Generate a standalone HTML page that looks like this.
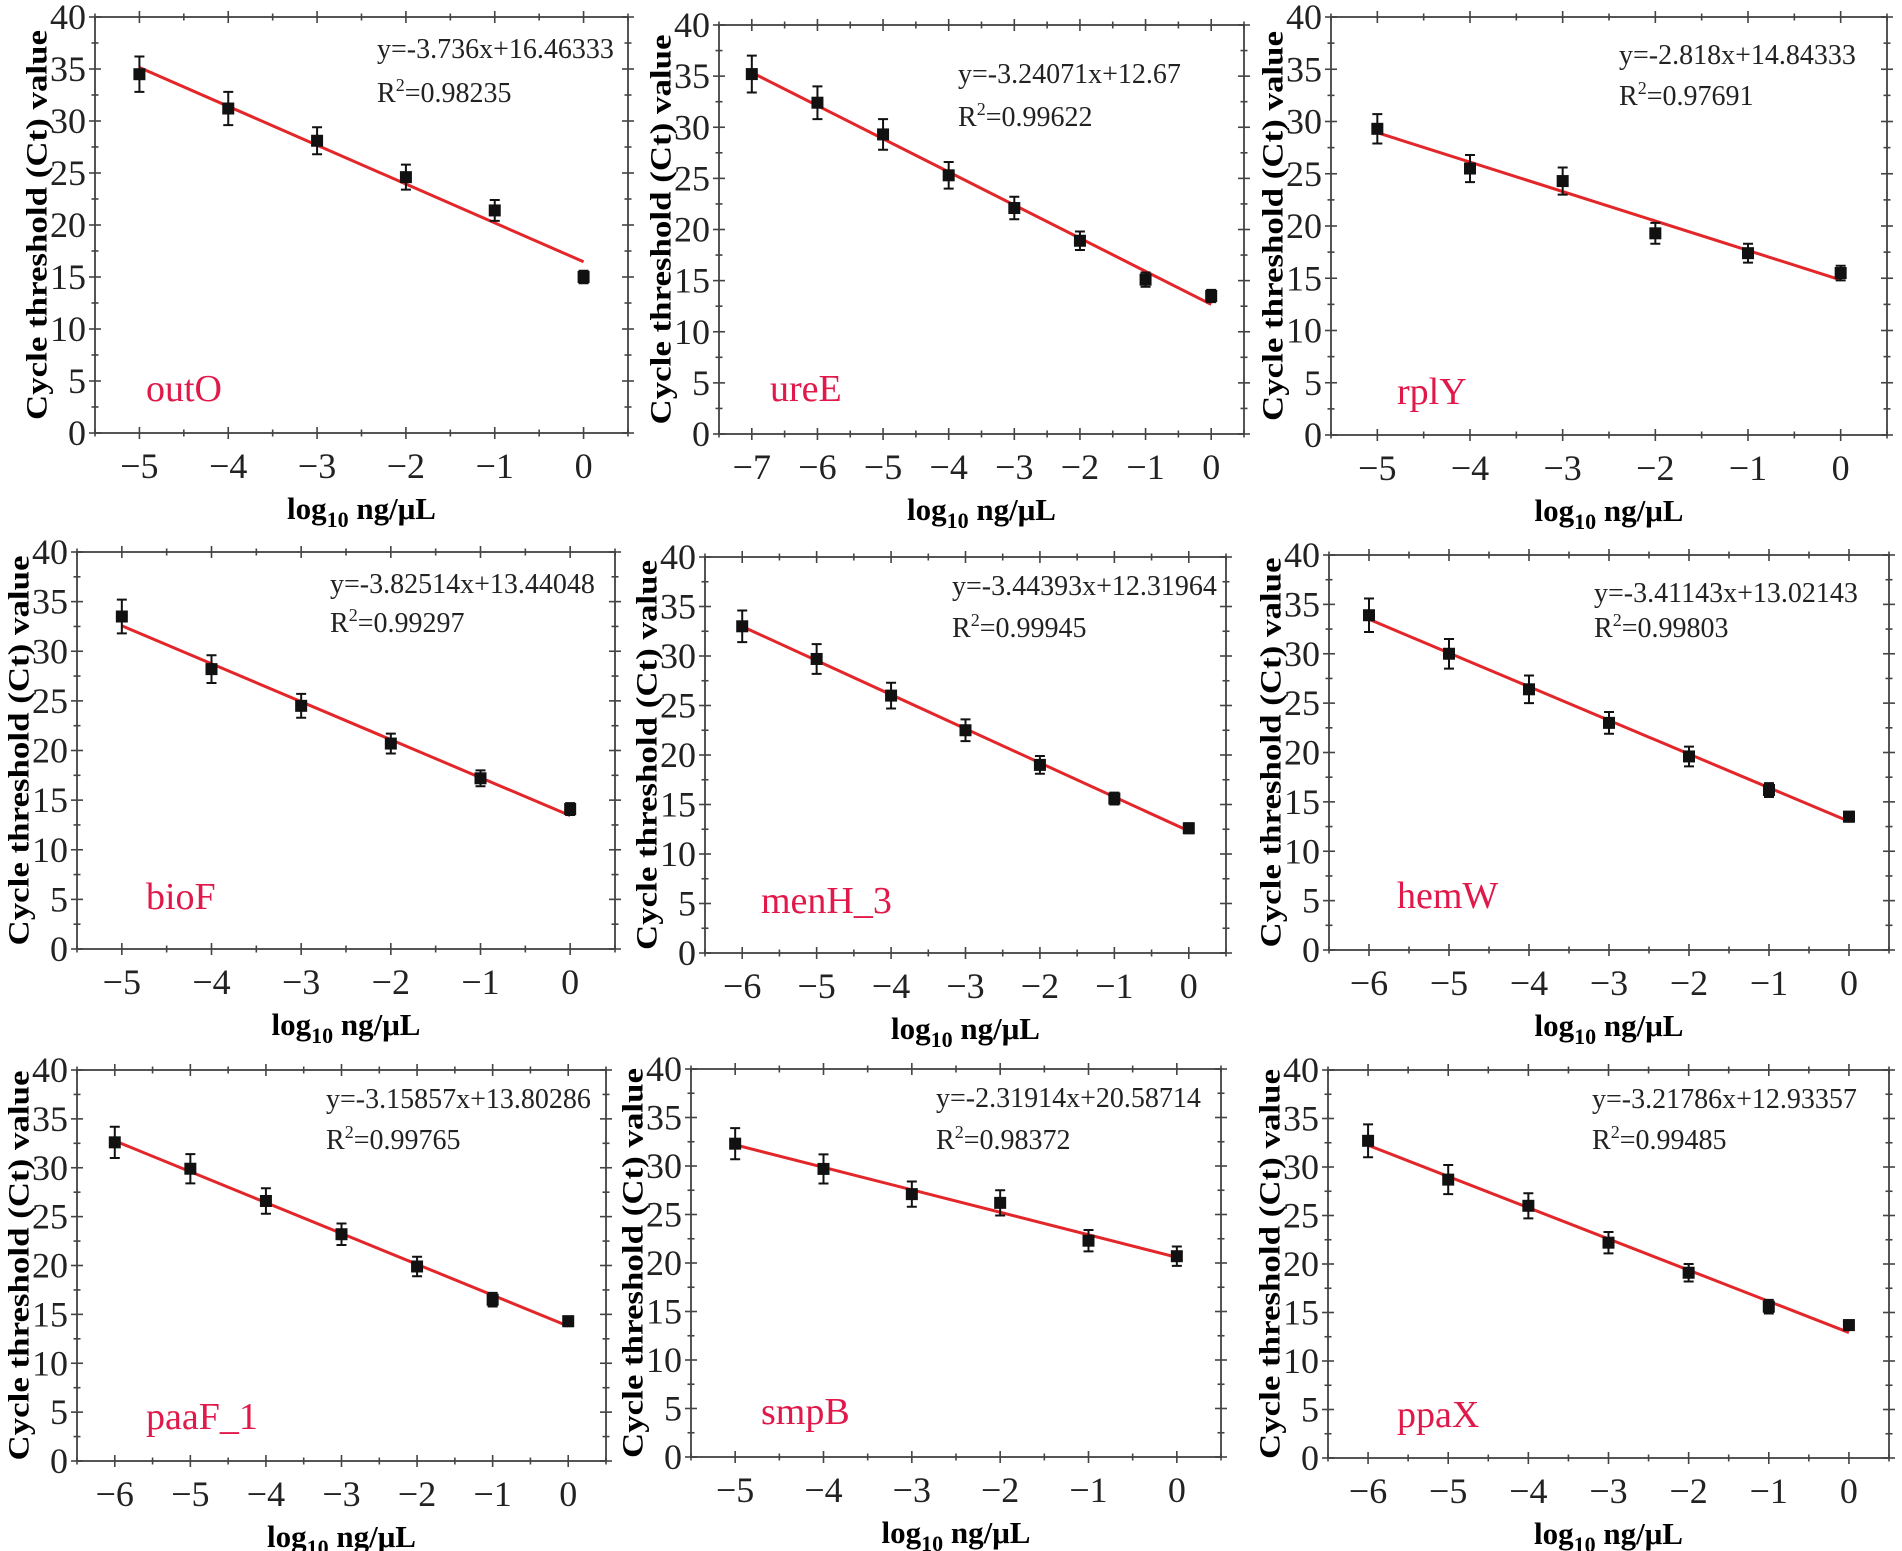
<!DOCTYPE html>
<html><head><meta charset="utf-8">
<style>
html,body{margin:0;padding:0;background:#fff;}
svg{display:block;}
text{font-family:"Liberation Serif","DejaVu Serif",serif;}
</style></head>
<body>
<svg id="fig" width="1902" height="1551" viewBox="0 0 1902 1551" xmlns="http://www.w3.org/2000/svg"></svg>
<script>
// ---- data ----
const xOutO = [-5,-4,-3,-2,-1,0];
const ctOutO = [34.5,31.2,28.1,24.6,21.4,15.0];
const errOutO = [1.7,1.6,1.3,1.2,1.0,0.6];
const fitOutO = [-3.736,16.46333];
const r2OutO = "0.98235";

const xUreE = [-7,-6,-5,-4,-3,-2,-1,0];
const ctUreE = [35.2,32.4,29.3,25.3,22.1,18.9,15.1,13.5];
const errUreE = [1.8,1.6,1.5,1.3,1.1,0.9,0.7,0.6];
const fitUreE = [-3.24071,12.67];
const r2UreE = "0.99622";

const xRplY = [-5,-4,-3,-2,-1,0];
const ctRplY = [29.3,25.5,24.3,19.3,17.4,15.5];
const errRplY = [1.4,1.3,1.3,1.0,0.9,0.7];
const fitRplY = [-2.818,14.84333];
const r2RplY = "0.97691";

const xBioF = [-5,-4,-3,-2,-1,0];
const ctBioF = [33.5,28.2,24.5,20.7,17.2,14.1];
const errBioF = [1.7,1.4,1.2,1.0,0.8,0.6];
const fitBioF = [-3.82514,13.44048];
const r2BioF = "0.99297";

const xMenH = [-6,-5,-4,-3,-2,-1,0];
const ctMenH = [33.0,29.7,26.0,22.5,19.0,15.6,12.6];
const errMenH = [1.6,1.5,1.3,1.1,0.9,0.6,0.5];
const fitMenH = [-3.44393,12.31964];
const r2MenH = "0.99945";

const xHemW = [-6,-5,-4,-3,-2,-1,0];
const ctHemW = [33.9,30.0,26.4,23.0,19.6,16.2,13.5];
const errHemW = [1.7,1.5,1.4,1.1,1.0,0.7,0.5];
const fitHemW = [-3.41143,13.02143];
const r2HemW = "0.99803";

const xPaaF = [-6,-5,-4,-3,-2,-1,0];
const ctPaaF = [32.6,29.9,26.6,23.2,19.9,16.5,14.3];
const errPaaF = [1.6,1.5,1.3,1.1,1.0,0.7,0.5];
const fitPaaF = [-3.15857,13.80286];
const r2PaaF = "0.99765";

const xSmpB = [-5,-4,-3,-2,-1,0];
const ctSmpB = [32.3,29.7,27.1,26.2,22.3,20.7];
const errSmpB = [1.6,1.5,1.3,1.3,1.1,1.0];
const fitSmpB = [-2.31914,20.58714];
const r2SmpB = "0.98372";

const xPpaX = [-6,-5,-4,-3,-2,-1,0];
const ctPpaX = [32.7,28.7,26.0,22.2,19.1,15.6,13.7];
const errPpaX = [1.7,1.5,1.3,1.1,0.9,0.7,0.5];
const fitPpaX = [-3.21786,12.93357];
const r2PpaX = "0.99485";

const geneNames = ["outO","ureE","rplY","bioF","menH_3","hemW","paaF_1","smpB","ppaX"];
const yTicks = [0,5,10,15,20,25,30,35,40];

// ---- layout ----
const panels = [
 {gene:0,x:xOutO,y:ctOutO,e:errOutO,f:fitOutO,r2:r2OutO,L:95,R:628,T:17,B:433,eqX:377,eqY:31,r2Y:75,gx:146,gy:388},
 {gene:1,x:xUreE,y:ctUreE,e:errUreE,f:fitUreE,r2:r2UreE,L:719,R:1244,T:25,B:434,eqX:958,eqY:48,r2Y:91,gx:770,gy:388},
 {gene:2,x:xRplY,y:ctRplY,e:errRplY,f:fitRplY,r2:r2RplY,L:1331,R:1887,T:17,B:435,eqX:1619,eqY:37,r2Y:78,gx:1397,gy:391},
 {gene:3,x:xBioF,y:ctBioF,e:errBioF,f:fitBioF,r2:r2BioF,L:77,R:615,T:552,B:949,eqX:330,eqY:31,r2Y:70,gx:146,gy:896},
 {gene:4,x:xMenH,y:ctMenH,e:errMenH,f:fitMenH,r2:r2MenH,L:705,R:1226,T:557,B:953,eqX:952,eqY:28,r2Y:70,gx:761,gy:900},
 {gene:5,x:xHemW,y:ctHemW,e:errHemW,f:fitHemW,r2:r2HemW,L:1329,R:1889,T:555,B:950,eqX:1594,eqY:37,r2Y:72,gx:1397,gy:895},
 {gene:6,x:xPaaF,y:ctPaaF,e:errPaaF,f:fitPaaF,r2:r2PaaF,L:77,R:606,T:1070,B:1461,eqX:326,eqY:28,r2Y:69,gx:146,gy:1416},
 {gene:7,x:xSmpB,y:ctSmpB,e:errSmpB,f:fitSmpB,r2:r2SmpB,L:691,R:1221,T:1069,B:1457,eqX:936,eqY:28,r2Y:70,gx:761,gy:1411},
 {gene:8,x:xPpaX,y:ctPpaX,e:errPpaX,f:fitPpaX,r2:r2PpaX,L:1328,R:1889,T:1070,B:1458,eqX:1592,eqY:28,r2Y:69,gx:1397,gy:1414}
];

const NS = "http://www.w3.org/2000/svg";
const svg = document.getElementById("fig");
function mk(tag, attrs, parent){
  const el = document.createElementNS(NS, tag);
  for (const k in attrs) el.setAttribute(k, attrs[k]);
  (parent||svg).appendChild(el);
  return el;
}
function fmt(v){ return v<0 ? "\u2212"+Math.abs(v) : String(v); }

panels.forEach((p, idx) => {
  const g = mk("g", {});
  
  
  const xmin = Math.min(...p.x) - 0.5, xmax = 0.5;
  const sx = v => p.L + (v - xmin) / (xmax - xmin) * (p.R - p.L);
  const sy = v => p.B - v / 40 * (p.B - p.T);

  const fr = mk("rect", {x:p.L, y:p.T, width:p.R-p.L, height:p.B-p.T, fill:"none", stroke:"#555", "stroke-width":2}, g);
  
  

  for (let v = 0; v <= 40; v += 2.5) {
    const major = (v % 5 === 0);
    const len = major ? 6 : 3.5;
    const yy = sy(v);
    mk("line", {x1:p.L-len, x2:p.L+len, y1:yy, y2:yy, stroke:"#444", "stroke-width":1.6}, g);
    mk("line", {x1:p.R-len, x2:p.R+len, y1:yy, y2:yy, stroke:"#444", "stroke-width":1.6}, g);
  }
  yTicks.forEach(v => {
    const t = mk("text", {x:p.L-9, y:sy(v)+12, "text-anchor":"end", "font-size":36, fill:"#222"}, g);
    t.textContent = String(v);
    
    
  });
  for (let v = xmin; v <= xmax + 1e-9; v += 0.5) {
    const major = Math.abs(v - Math.round(v)) < 1e-9;
    const len = major ? 6 : 3.5;
    const xx = sx(v);
    mk("line", {x1:xx, x2:xx, y1:p.B-len, y2:p.B+len, stroke:"#444", "stroke-width":1.6}, g);
    mk("line", {x1:xx, x2:xx, y1:p.T-len, y2:p.T+len, stroke:"#444", "stroke-width":1.6}, g);
  }
  p.x.forEach(v => {
    const t = mk("text", {x:sx(v), y:p.B+45, "text-anchor":"middle", "font-size":36, fill:"#222"}, g);
    t.textContent = fmt(v);
    
    
  });

  const cy = (p.T + p.B) / 2, tx = p.L - 58;
  const yt = mk("text", {x:tx, y:cy, transform:`rotate(-90 ${tx} ${cy})`, "text-anchor":"middle", "dominant-baseline":"central", "font-size":30, "font-weight":"bold", fill:"#000", textLength:390, lengthAdjust:"spacingAndGlyphs"}, g);
  yt.textContent = "Cycle threshold (Ct) value";
  
  

  const cx = (p.L + p.R) / 2;
  const xt = mk("text", {x:cx, y:p.B+86, "text-anchor":"middle", "font-size":31, "font-weight":"bold", fill:"#000"}, g);
  
  
  const s1 = mk("tspan", {}, xt); s1.textContent = "log";
  const s2 = mk("tspan", {dy:8, "font-size":22}, xt); s2.textContent = "10";
  const s3 = mk("tspan", {dy:-8}, xt); s3.textContent = " ng/\u03BCL";

  const x0 = Math.min(...p.x), x1 = Math.max(...p.x);
  const fl = mk("line", {x1:sx(x0), y1:sy(p.f[0]*x0+p.f[1]), x2:sx(x1), y2:sy(p.f[0]*x1+p.f[1]), stroke:"#e3262a", "stroke-width":3}, g);
  
  

  p.x.forEach((xv, i) => {
    const X = sx(xv), Y = sy(p.y[i]), Yt = sy(p.y[i]+p.e[i]), Yb = sy(p.y[i]-p.e[i]);
    const eb = mk("path", {d:`M${X},${Yt}V${Yb}M${X-5},${Yt}H${X+5}M${X-5},${Yb}H${X+5}`, stroke:"#111", "stroke-width":2, fill:"none"}, g);
    
    
    const pt = mk("rect", {x:X-6, y:Y-6, width:12, height:12, fill:"#111"}, g);
    
    
  });

  const eq = mk("text", {x:p.eqX, y:p.T+p.eqY+10, "font-size":28, fill:"#222"}, g);
  eq.textContent = "y=" + p.f[0] + "x+" + p.f[1];
  
  
  const r2 = mk("text", {x:p.eqX, y:p.T+p.r2Y+10, "font-size":28, fill:"#222"}, g);
  
  
  const a = mk("tspan", {}, r2); a.textContent = "R";
  const b = mk("tspan", {dy:-11, "font-size":18}, r2); b.textContent = "2";
  const c = mk("tspan", {dy:11}, r2); c.textContent = "=" + p.r2;

  const gl = mk("text", {x:p.gx, y:p.gy+13, "font-size":38, fill:"#e0194a"}, g);
  gl.textContent = geneNames[p.gene];
  
  
});
</script>
</body></html>
